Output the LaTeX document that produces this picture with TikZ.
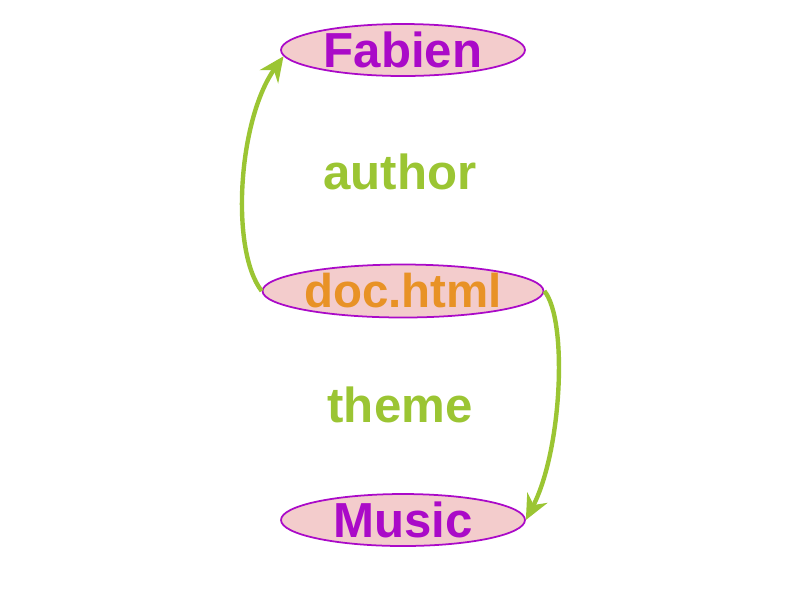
\documentclass[tikz,border=0pt]{standalone}
\usepackage{fontspec}
\setmainfont{Liberation Sans}
\usetikzlibrary{shapes.geometric,arrows.meta}
\definecolor{linkgreen}{RGB}{155,197,51}
\definecolor{respurple}{RGB}{170,10,200}
\definecolor{docorange}{RGB}{232,146,38}
\definecolor{nodepink}{RGB}{243,204,204}
\tikzset{>={Stealth[length=5mm,width=4.5mm]}}
\tikzset{ resource/.style={ellipse,draw=respurple,fill=nodepink,line width=1pt,inner sep=0pt,
    minimum width=4.88cm,minimum height=1.04cm,text=respurple,font=\fontsize{28}{32}\selectfont\bfseries},
  link/.style={draw=linkgreen,line width=2.5pt,->},
  prop/.style={text=linkgreen,font=\fontsize{28}{32}\selectfont\bfseries} }

\begin{document}
\begin{tikzpicture}[x=0.02cm,y=-0.02cm]
  \useasboundingbox (0,0) rectangle (800,600);
  % resources
  \node[resource] (fabien) at (403,50) {Fabien};
  \node[resource,text=docorange,font=\fontsize{27}{32}\selectfont\bfseries,minimum width=5.62cm,minimum height=1.06cm] (doc) at (403,291) {doc.html};
  \node[resource] (music) at (403,520) {Music};
  % properties
  \node[prop] (author) at (400,172) {author};
  \node[prop] (theme) at (400,405) {theme};
  % links
  \draw[link] (doc.west) .. controls (230,250) and (238,120) .. (fabien.183);
  \draw[link] (doc.east) .. controls (568,320) and (562,450) .. (music.east);
\end{tikzpicture}
\end{document}
